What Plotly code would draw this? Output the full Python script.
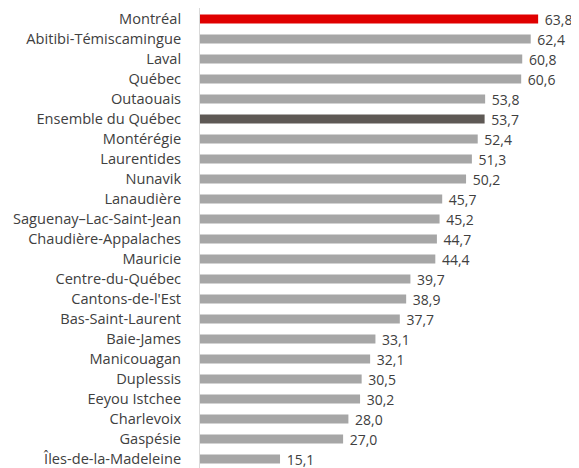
import plotly.graph_objects as go

regions = ["Montréal", "Abitibi-Témiscamingue", "Laval", "Québec", "Outaouais",
           "Ensemble du Québec", "Montérégie", "Laurentides", "Nunavik", "Lanaudière",
           "Saguenay–Lac-Saint-Jean", "Chaudière-Appalaches", "Mauricie", "Centre-du-Québec",
           "Cantons-de-l'Est", "Bas-Saint-Laurent", "Baie-James", "Manicouagan", "Duplessis",
           "Eeyou Istchee", "Charlevoix", "Gaspésie", "Îles-de-la-Madeleine"]
values = [63.8, 62.4, 60.8, 60.6, 53.8, 53.7, 52.4, 51.3, 50.2, 45.7, 45.2, 44.7, 44.4,
          39.7, 38.9, 37.7, 33.1, 32.1, 30.5, 30.2, 28.0, 27.0, 15.1]

colors = []
for r in regions:
    if r == "Montréal":
        colors.append("#e00000")
    elif r == "Ensemble du Québec":
        colors.append("#5e5955")
    else:
        colors.append("#a6a6a6")

FONT = "Open Sans"
FS = 14.6
VFS = 14

fig = go.Figure(go.Bar(
    x=values, y=regions, orientation="h",
    marker=dict(color=colors, line=dict(width=0)),
    width=0.44,
    text=values, texttemplate=" %{x:.1f}", textposition="outside",
    constraintext="none",
    outsidetextfont=dict(family=FONT, size=VFS, color="#404040"),
    textfont=dict(family=FONT, size=VFS, color="#404040"),
    cliponaxis=False,
))

# the page body adds an 8px offset, so the figure is sized to fit the 579x468 window
fig.update_layout(
    width=571, height=460,
    margin=dict(l=192, r=8, t=0, b=0),
    plot_bgcolor="white", paper_bgcolor="white",
    separators=", ",
    showlegend=False,
    font=dict(family=FONT, size=FS, color="#404040"),
    xaxis=dict(range=[0, 70], visible=False, showgrid=False, zeroline=False),
    yaxis=dict(type="category", range=[22.45, -0.55], autorange=False, automargin=False,
               showline=True, linecolor="#d9d9d9", linewidth=1,
               ticks="", ticklabelstandoff=15, showgrid=False,
               tickfont=dict(family=FONT, size=FS, color="#404040")),
)

fig.write_html("out.html")
